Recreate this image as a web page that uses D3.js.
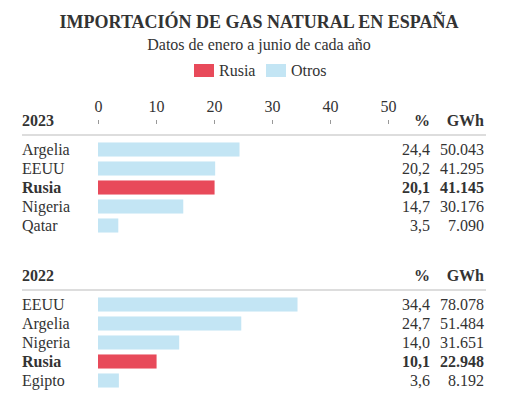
<!DOCTYPE html>
<html><head><meta charset="utf-8">
<script src="https://cdn.jsdelivr.net/npm/d3@7"></script>
<style>body{margin:0;background:#fff}text{font-family:"Liberation Serif",serif;fill:#333}</style>
</head><body><div id="chart"></div>
<script>
// --- Data ---
const countries2023 = ["Argelia", "EEUU", "Rusia", "Nigeria", "Qatar"];
const pct2023 = [24.4, 20.2, 20.1, 14.7, 3.5];
const gwh2023 = ["50.043", "41.295", "41.145", "30.176", "7.090"];
const countries2022 = ["EEUU", "Argelia", "Nigeria", "Rusia", "Egipto"];
const pct2022 = [34.4, 24.7, 14.0, 10.1, 3.6];
const gwh2022 = ["78.078", "51.484", "31.651", "22.948", "8.192"];
const tickValues = [0, 10, 20, 30, 40, 50];

const W = 518, H = 417;
const RED = "#e84a5a", BLUE = "#c3e5f4";

const svg = d3.select("#chart").append("svg").attr("width", W).attr("height", H);

svg.append("text").attr("x", W / 2).attr("y", 28).attr("text-anchor", "middle")
    .style("font-size", "18px").style("font-weight", "bold").text("IMPORTACIÓN DE GAS NATURAL EN ESPAÑA");
svg.append("text").attr("x", W / 2).attr("y", 50).attr("text-anchor", "middle")
    .style("font-size", "16px").text("Datos de enero a junio de cada año");

// legend
[["Rusia", RED, 194], ["Otros", BLUE, 266]].forEach(([t, c, x]) => {
    svg.append("rect").attr("x", x).attr("y", 64).attr("width", 20).attr("height", 13).attr("fill", c);
    svg.append("text").attr("x", x + 25).attr("y", 76).style("font-size", "16px").text(t);
});

const x = d3.scaleLinear().domain([0, 50]).range([98, 388]);

// axis ticks (top of 2023 block)
const axis = svg.append("g").attr("transform", "translate(0,124)")
    .call(d3.axisTop(x).tickValues(tickValues).tickSize(4).tickPadding(8));
axis.select(".domain").remove();
axis.selectAll("line").attr("stroke", "#999");
axis.selectAll("text").style("font-size", "16px").attr("fill", "#444").style("font-family", "Liberation Serif, serif");

function block(year, top, countries, pct, gwh) {
    svg.append("text").attr("x", 22).attr("y", top).style("font-size", "16px").style("font-weight", "bold").text(year);
    svg.append("text").attr("x", 430).attr("y", top).attr("text-anchor", "end").style("font-size", "16px").style("font-weight", "bold").text("%");
    svg.append("text").attr("x", 484).attr("y", top).attr("text-anchor", "end").style("font-size", "16px").style("font-weight", "bold").text("GWh");
    svg.append("line").attr("x1", 22).attr("x2", 486).attr("y1", top + 9).attr("y2", top + 9).attr("stroke", "#bbb");

    const y = d3.scaleBand().domain(countries).range([top + 14, top + 14 + 19 * countries.length]).paddingInner(0.26).paddingOuter(0.13);
    countries.forEach((c, i) => {
        const bold = c === "Rusia";
        const cy = y(c) + y.bandwidth() / 2;
        svg.append("rect").attr("x", x(0)).attr("y", y(c)).attr("width", x(pct[i]) - x(0))
            .attr("height", y.bandwidth()).attr("fill", bold ? RED : BLUE);
        const row = [[c, 22, "start"], [d3.format(".1f")(pct[i]).replace(".", ","), 430, "end"], [gwh[i], 484, "end"]];
        row.forEach(([t, xx, a]) => svg.append("text").attr("x", xx).attr("y", cy + 5).attr("text-anchor", a)
            .style("font-size", "16px").style("font-weight", bold ? "bold" : "normal").text(t));
    });
}
block("2023", 126, countries2023, pct2023, gwh2023);
block("2022", 281, countries2022, pct2022, gwh2022);
</script></body></html>
